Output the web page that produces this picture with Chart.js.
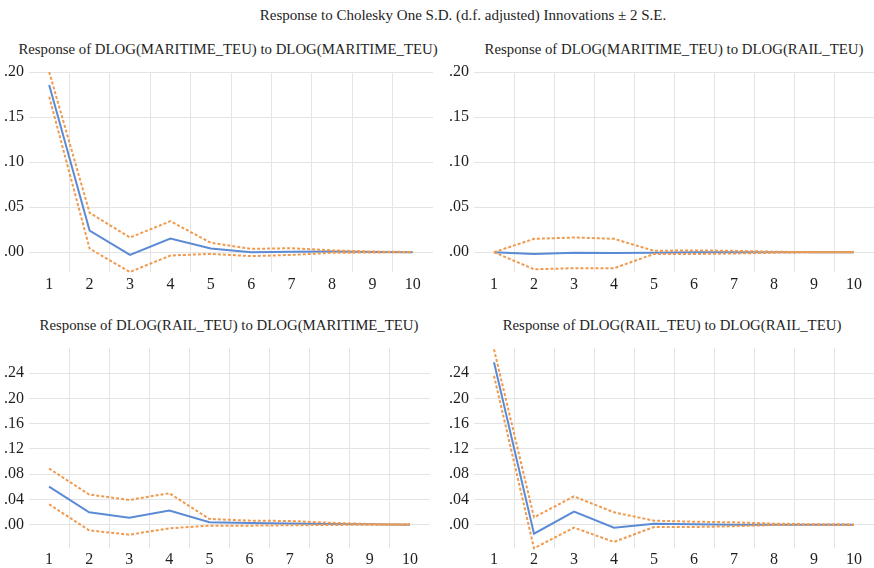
<!DOCTYPE html>
<html>
<head>
<meta charset="utf-8">
<script src="https://cdn.jsdelivr.net/npm/chart.js@4"></script>
<style>
  html, body { margin: 0; padding: 0; background: #ffffff; }
  body { width: 874px; height: 568px; position: relative; overflow: hidden; font-family: "Liberation Serif", "DejaVu Serif", serif; color: #1e1e1e; }
  .ttl { position: absolute; white-space: nowrap; transform: translateX(-50%); line-height: 18px; font-size: 14.8px; }
  canvas { position: absolute; }
</style>
</head>
<body>
<div class="ttl" id="mainTitle" style="left:463px; top:6px; font-size:15px;"></div>
<div class="ttl" id="t1" style="left:228px; top:40px;"></div>
<div class="ttl" id="t2" style="left:674px; top:40px;"></div>
<div class="ttl" id="t3" style="left:229px; top:316px;"></div>
<div class="ttl" id="t4" style="left:672px; top:316px;"></div>
<canvas id="c1" width="434" height="232" style="left:0px; top:62px;"></canvas>
<canvas id="c2" width="434" height="232" style="left:440px; top:62px;"></canvas>
<canvas id="c3" width="431" height="232" style="left:0px; top:338px;"></canvas>
<canvas id="c4" width="434" height="232" style="left:440px; top:338px;"></canvas>
<script>
// ---------- data ----------
const mainTitle = "Response to Cholesky One S.D. (d.f. adjusted) Innovations \u00b1 2 S.E.";
const panelTitles = [
  "Response of DLOG(MARITIME_TEU) to DLOG(MARITIME_TEU)",
  "Response of DLOG(MARITIME_TEU) to DLOG(RAIL_TEU)",
  "Response of DLOG(RAIL_TEU) to DLOG(MARITIME_TEU)",
  "Response of DLOG(RAIL_TEU) to DLOG(RAIL_TEU)"
];
const periods = ["1","2","3","4","5","6","7","8","9","10"];
const topTicks = [0, 0.05, 0.10, 0.15, 0.20];
const bottomTicks = [0, 0.04, 0.08, 0.12, 0.16, 0.20, 0.24];

// Panel 1: MARITIME -> MARITIME
const p1Resp  = [0.1856, 0.0240, -0.0030, 0.0152, 0.0040, 0.0000, 0.0005, 0.0007, 0.0002, 0.0000];
const p1Upper = [0.2000, 0.0437, 0.0163, 0.0344, 0.0104, 0.0037, 0.0044, 0.0020, 0.0007, 0.0002];
const p1Lower = [0.1726, 0.0040, -0.0220, -0.0037, -0.0019, -0.0044, -0.0030, -0.0007, -0.0003, 0.0000];
// Panel 2: MARITIME -> RAIL
const p2Resp  = [0.0000, -0.0020, -0.0005, -0.0010, -0.0005, 0.0000, 0.0000, 0.0000, 0.0000, 0.0000];
const p2Upper = [0.0000, 0.0148, 0.0163, 0.0148, 0.0015, 0.0020, 0.0015, 0.0005, 0.0000, 0.0000];
const p2Lower = [0.0000, -0.0190, -0.0178, -0.0178, -0.0020, -0.0020, -0.0015, -0.0005, 0.0000, 0.0000];
// Panel 3: RAIL -> MARITIME
const p3Resp  = [0.0604, 0.0196, 0.0111, 0.0223, 0.0037, 0.0026, 0.0020, 0.0010, 0.0005, 0.0000];
const p3Upper = [0.0890, 0.0477, 0.0392, 0.0498, 0.0090, 0.0064, 0.0058, 0.0030, 0.0010, 0.0005];
const p3Lower = [0.0323, -0.0090, -0.0159, -0.0058, -0.0016, -0.0016, -0.0010, -0.0005, 0.0000, 0.0000];
// Panel 4: RAIL -> RAIL
const p4Resp  = [0.2574, -0.0142, 0.0206, -0.0047, 0.0016, 0.0005, 0.0000, 0.0000, 0.0000, 0.0000];
const p4Upper = [0.2780, 0.0116, 0.0448, 0.0195, 0.0063, 0.0047, 0.0037, 0.0016, 0.0005, 0.0000];
const p4Lower = [0.2360, -0.0374, -0.0047, -0.0274, -0.0037, -0.0037, -0.0026, -0.0005, 0.0000, 0.0000];

// ---------- styles ----------
const BLUE = "#5b8bd5";
const ORANGE = "#ef9a4e";
const GRID = "#e4e4e4";
const TICKCOL = "#1e1e1e";
const FONT = "'Liberation Serif', 'DejaVu Serif', serif";

document.getElementById("mainTitle").textContent = mainTitle;
["t1","t2","t3","t4"].forEach((id, i) => document.getElementById(id).textContent = panelTitles[i]);

function fmt(v) {
  const s = Math.abs(v).toFixed(2).replace(/^0/, "");
  return (v < 0 ? "-" : "") + s;
}

function makePanel(id, resp, upper, lower, yMin, yMax, ticks, yWidth, yPad, xPad, padRight) {
  const bandStyle = {
    borderColor: ORANGE, borderWidth: 2, borderDash: [3, 2],
    pointRadius: 0, fill: false, tension: 0, clip: false
  };
  new Chart(document.getElementById(id), {
    type: "line",
    data: {
      labels: periods,
      datasets: [
        Object.assign({ data: upper }, bandStyle),
        Object.assign({ data: lower }, bandStyle),
        { data: resp, borderColor: BLUE, borderWidth: 2, pointRadius: 0, fill: false, tension: 0, clip: false }
      ]
    },
    options: {
      responsive: false,
      animation: false,
      devicePixelRatio: 1,
      layout: { padding: { top: 10, right: padRight, left: 0, bottom: 0 } },
      plugins: { legend: { display: false }, tooltip: { enabled: false }, title: { display: false } },
      scales: {
        x: {
          type: "category",
          offset: true,
          border: { display: false },
          grid: {
            offset: true,
            drawTicks: false,
            lineWidth: 1,
            color: (c) => (c.index > 0 ? GRID : "rgba(0,0,0,0)")
          },
          ticks: { color: TICKCOL, font: { family: FONT, size: 16 }, padding: xPad, maxRotation: 0, autoSkip: false },
          afterFit: (s) => { s.height = 22; s.paddingLeft = 0; s.paddingRight = 0; }
        },
        y: {
          type: "linear",
          min: yMin, max: yMax,
          border: { display: false },
          grid: { color: GRID, lineWidth: 1, drawTicks: false },
          ticks: { color: TICKCOL, font: { family: FONT, size: 16 }, padding: yPad, callback: (v) => fmt(v) },
          afterBuildTicks: (s) => { s.ticks = ticks.map(v => ({ value: v })); },
          afterFit: (s) => { s.width = yWidth; s.paddingTop = 0; s.paddingBottom = 0; }
        }
      }
    }
  });
}

makePanel("c1", p1Resp, p1Upper, p1Lower, -0.022, 0.20, topTicks, 29, 5, 3, 1);
makePanel("c2", p2Resp, p2Upper, p2Lower, -0.022, 0.20, topTicks, 34, 5, 3, 0);
makePanel("c3", p3Resp, p3Upper, p3Lower, -0.037, 0.28, bottomTicks, 29, 5, 2, 1);
makePanel("c4", p4Resp, p4Upper, p4Lower, -0.037, 0.28, bottomTicks, 34, 5, 2, 0);
</script>
</body>
</html>
